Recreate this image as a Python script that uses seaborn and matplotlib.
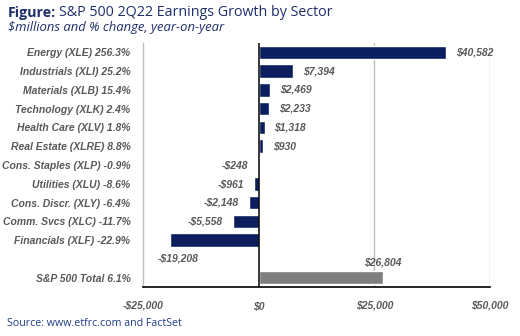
import matplotlib
matplotlib.use("Agg")
import matplotlib.pyplot as plt
import seaborn as sns
import pandas as pd
from matplotlib import font_manager

sectors = [
    "Energy (XLE) 256.3%",
    "Industrials (XLI) 25.2%",
    "Materials (XLB) 15.4%",
    "Technology (XLK) 2.4%",
    "Health Care (XLV) 1.8%",
    "Real Estate (XLRE) 8.8%",
    "Cons. Staples (XLP) -0.9%",
    "Utilities (XLU) -8.6%",
    "Cons. Discr. (XLY) -6.4%",
    "Comm. Svcs (XLC) -11.7%",
    "Financials (XLF) -22.9%",
]
growth = [40582, 7394, 2469, 2233, 1318, 930, -248, -961, -2148, -5558, -19208]
total_label = "S&P 500 Total 6.1%"
total_value = 26804
xticks = [-25000, 0, 25000, 50000]
xtick_labels = ["-$25,000", "$0", "$25,000", "$50,000"]

NAVY = "#0b1f5e"
GREY_BAR = "#7f7f7f"
TEXT = "#595959"

names = {f.name for f in font_manager.fontManager.ttflist}
narrow = "Liberation Sans Narrow" if "Liberation Sans Narrow" in names else "Liberation Sans"

sns.set_theme(style="white")
plt.rcParams["font.family"] = [narrow, "DejaVu Sans"]

blank = " "
order = sectors + [blank, total_label]
df = pd.DataFrame({
    "label": sectors + [total_label],
    "value": growth + [total_value],
})
palette = {s: NAVY for s in sectors}
palette[total_label] = GREY_BAR

fig = plt.figure(figsize=(5.2, 3.36), dpi=100)
ax = fig.add_axes([143 / 520, 1 - 287 / 336, (490 - 143) / 520, (287 - 43) / 336])

sns.barplot(data=df, y="label", x="value", order=order, hue="label",
            palette=palette, legend=False, width=0.72, ax=ax,
            saturation=1, orient="h")

ax.set_xlim(-25000, 50000)
ax.set_ylim(len(order) - 0.5, -0.5)
ax.set_xlabel("")
ax.set_ylabel("")

# grid lines and spines
for x in (25000, 50000):
    ax.axvline(x, color="#bfbfbf", lw=1, zorder=0)
ax.axvline(0, color="black", lw=1.1, zorder=3)
for side in ("top", "right"):
    ax.spines[side].set_visible(False)
ax.spines["left"].set_color("#bfbfbf")
ax.spines["left"].set_linewidth(1)
ax.spines["bottom"].set_color("black")
ax.spines["bottom"].set_linewidth(1.2)

FS = 7.5
ax.set_xticks(xticks)
ax.set_xticklabels(xtick_labels, fontsize=FS, fontstyle="italic",
                   fontweight="bold", color=TEXT)
ax.tick_params(axis="x", length=0, pad=10)
ax.set_yticks(range(len(order)))
ax.set_yticklabels(order, fontsize=FS, fontstyle="italic",
                   fontweight="bold", color=TEXT)
ax.tick_params(axis="y", length=0, pad=9)

lab_kw = dict(fontsize=FS, fontstyle="italic", fontweight="bold",
              color=TEXT, clip_on=False)

# value labels
for i, (s, v) in enumerate(zip(sectors, growth)):
    txt = f"-${abs(v):,}" if v < 0 else f"${v:,}"
    if s.startswith("Financials"):
        ax.annotate(txt, (v, i + 1), xytext=(6, 0), textcoords="offset points",
                    ha="center", va="center", **lab_kw)
    elif v >= 0:
        ax.annotate(txt, (v, i), xytext=(7, 0), textcoords="offset points",
                    ha="left", va="center", **lab_kw)
    else:
        ax.annotate(txt, (v, i), xytext=(-7, 0), textcoords="offset points",
                    ha="right", va="center", **lab_kw)
ti = order.index(total_label)
ax.annotate(f"${total_value:,}", (total_value, ti - 0.38), xytext=(0, 2),
            textcoords="offset points", ha="center", va="bottom", **lab_kw)

# title block
title_font = ["Open Sans", "DejaVu Sans"]
t1 = fig.text(8 / 520, 1 - 13 / 336, "Figure:", fontsize=10.3, fontweight="bold",
              color="#1f2f6b", family=title_font, va="center", ha="left")
fig.canvas.draw()
bb = t1.get_window_extent()
fig.text((bb.x1 + 3) / 520, 1 - 13 / 336, "S&P 500 2Q22 Earnings Growth by Sector",
         fontsize=10.3, color="#1f2f6b", family=title_font, va="center", ha="left")
fig.text(8 / 520, 1 - 28 / 336, "$millions and % change, year-on-year",
         fontsize=9.4, fontstyle="italic", color="#1f2f6b", family=title_font,
         va="center", ha="left")
fig.text(7 / 520, 1 - 324 / 336, "Source: www.etfrc.com and FactSet",
         fontsize=7.7, color="#1f3c88", family=title_font, va="center", ha="left")

fig.savefig("out.png", dpi=100)
